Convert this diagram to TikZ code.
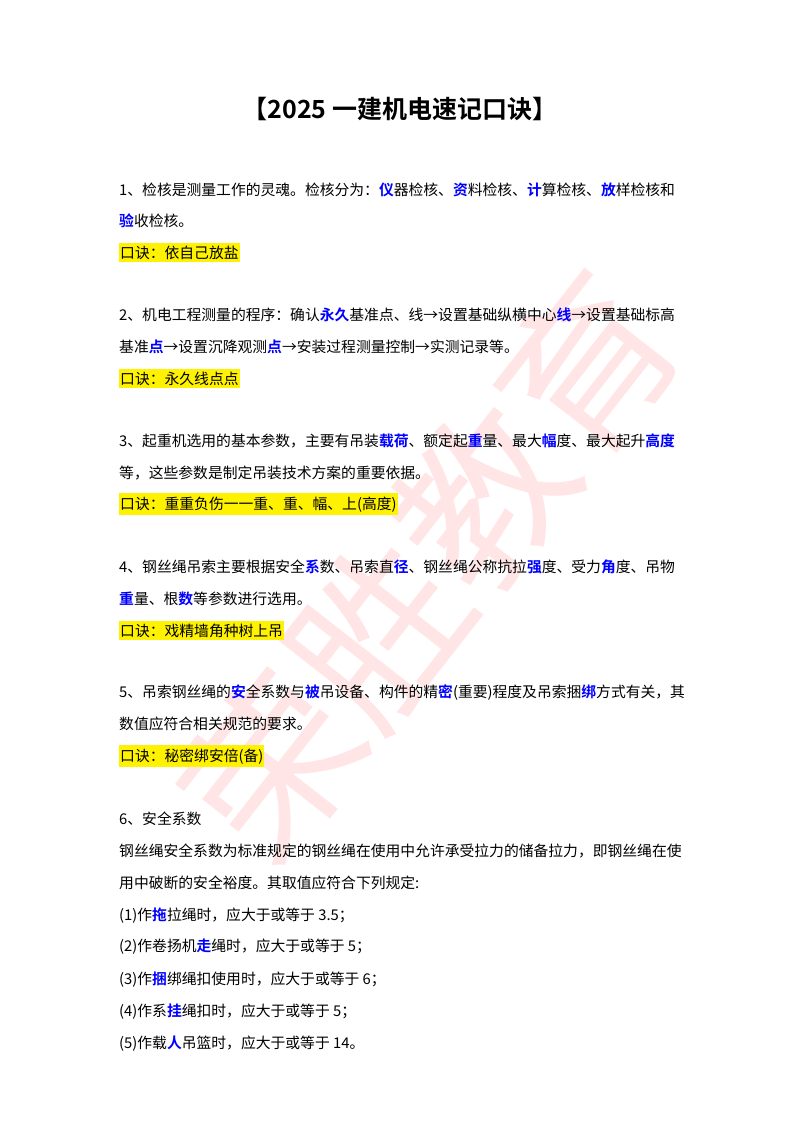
\documentclass[tikz,border=0pt]{standalone}
\usepackage{fontspec}
\setmainfont{Noto Sans CJK SC}[BoldFont={Noto Sans CJK SC Bold}]
\newcommand{\B}[1]{{\bfseries\color{blue}#1}}
\begin{document}
\begin{tikzpicture}[x=1pt,y=-1pt,
  ln/.style={anchor=base west,inner sep=0pt,font=\fontsize{14.8}{16}\selectfont},
  kj/.style={ln,fill=yellow,inner ysep=3pt,inner xsep=1pt}]
\useasboundingbox (0,0) rectangle (800,1132);
\fill[white] (0,0) rectangle (800,1132);
\node (wm) [rotate=52,text=red!40,opacity=0.25,font=\fontsize{170}{170}\selectfont] at (430,565) {荣胜教育};
\node (title) [anchor=base,font=\fontsize{25}{28}\selectfont\bfseries] at (400,118) {【2025 一建机电速记口诀】};
\node (a1) [ln] at (119,195) {1、检核是测量工作的灵魂。检核分为：\B{仪}器检核、\B{资}料检核、\B{计}算检核、\B{放}样检核和};
\node (a2) [ln] at (119,226) {\B{验}收检核。};
\node (a3) [kj] at (119,258) {口诀：依自己放盐};
\node (b1) [ln] at (119,320) {2、机电工程测量的程序：确认\B{永久}基准点、线→设置基础纵横中心\B{线}→设置基础标高};
\node (b2) [ln] at (119,352) {基准\B{点}→设置沉降观测\B{点}→安装过程测量控制→实测记录等。};
\node (b3) [kj] at (119,384) {口诀：永久线点点};
\node (c1) [ln] at (119,446) {3、起重机选用的基本参数，主要有吊装\B{载荷}、额定起\B{重}量、最大\B{幅}度、最大起升\B{高度}};
\node (c2) [ln] at (119,478) {等，这些参数是制定吊装技术方案的重要依据。};
\node (c3) [kj] at (119,509) {口诀：重重负伤一一重、重、幅、上(高度)};
\node (d1) [ln] at (119,572) {4、钢丝绳吊索主要根据安全\B{系}数、吊索直\B{径}、钢丝绳公称抗拉\B{强}度、受力\B{角}度、吊物};
\node (d2) [ln] at (119,604) {\B{重}量、根\B{数}等参数进行选用。};
\node (d3) [kj] at (119,636) {口诀：戏精墙角种树上吊};
\node (e1) [ln] at (119,697) {5、吊索钢丝绳的\B{安}全系数与\B{被}吊设备、构件的精\B{密}(重要)程度及吊索捆\B{绑}方式有关，其};
\node (e2) [ln] at (119,729) {数值应符合相关规范的要求。};
\node (e3) [kj] at (119,761) {口诀：秘密绑安倍(备)};
\node (f0) [ln] at (119,824) {6、安全系数};
\node (f1) [ln] at (119,856) {钢丝绳安全系数为标准规定的钢丝绳在使用中允许承受拉力的储备拉力，即钢丝绳在使};
\node (f2) [ln] at (119,888) {用中破断的安全裕度。其取值应符合下列规定:};
\node (f3) [ln] at (119,920) {(1)作\B{拖}拉绳时，应大于或等于 3.5；};
\node (f4) [ln] at (119,951) {(2)作卷扬机\B{走}绳时，应大于或等于 5；};
\node (f5) [ln] at (119,984) {(3)作\B{捆}绑绳扣使用时，应大于或等于 6；};
\node (f6) [ln] at (119,1016) {(4)作系\B{挂}绳扣时，应大于或等于 5；};
\node (f7) [ln] at (119,1048) {(5)作载\B{人}吊篮时，应大于或等于 14。};
\end{tikzpicture}
\end{document}
